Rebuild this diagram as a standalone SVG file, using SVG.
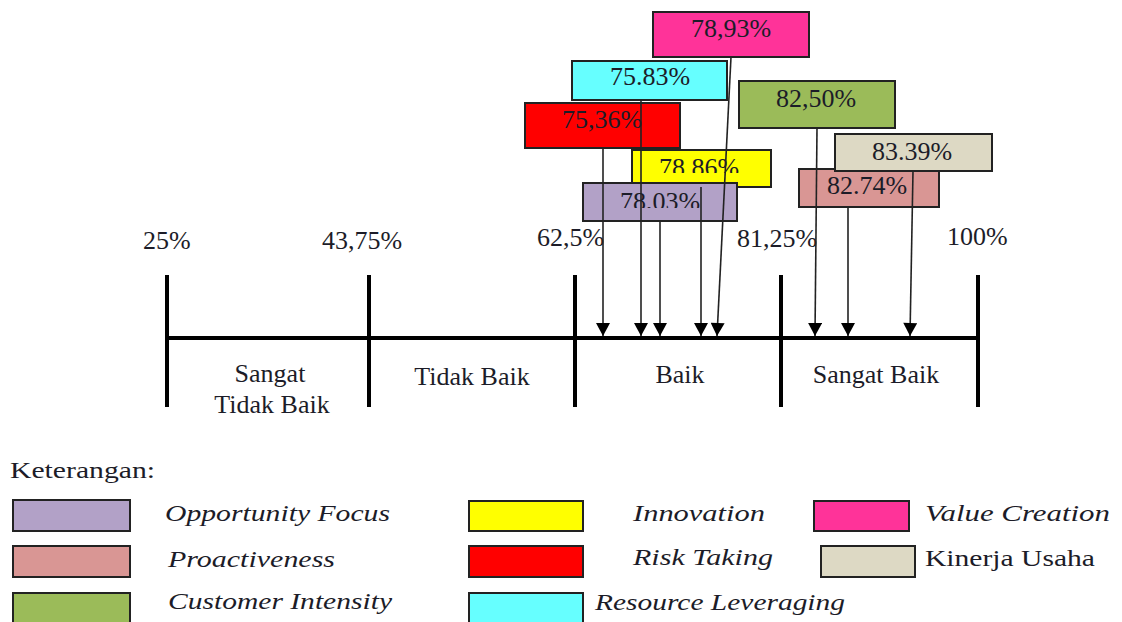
<svg xmlns="http://www.w3.org/2000/svg" width="1122" height="622" viewBox="0 0 1122 622" font-family="'Liberation Serif', 'DejaVu Serif', serif">
<style>
text{font-family:'Liberation Serif','DejaVu Serif',serif;fill:#1c1c28}
.v{font-size:26px;text-anchor:middle}
.ax{font-size:26px}
.cat{font-size:26px;text-anchor:middle}
.lg{font-size:23px;font-style:italic}
.lu{font-size:23px}
.box{stroke:#222;stroke-width:2}
.tick{stroke:#000;stroke-width:4;fill:none}
.conn line{stroke:#222;stroke-width:1.6}
</style>
<defs>
<marker id="ah" markerUnits="userSpaceOnUse" markerWidth="14" markerHeight="14" viewBox="0 -7 13 14" refX="13" refY="0" orient="auto">
<path d="M0,-7 L13,0 L0,7 z" fill="#000"/>
</marker>
<clipPath id="clipY"><rect x="630" y="148" width="145" height="25"/></clipPath>
<clipPath id="clipP"><rect x="580" y="183" width="160" height="25"/></clipPath>
</defs>
<rect width="1122" height="622" fill="#fff"/>

<g id="scale">
<line class="tick" x1="165" y1="338" x2="980" y2="338"/>
<line class="tick" x1="167" y1="275" x2="167" y2="407"/>
<line class="tick" x1="369" y1="275" x2="369" y2="407"/>
<line class="tick" x1="575" y1="275" x2="575" y2="407"/>
<line class="tick" x1="781" y1="275" x2="781" y2="407"/>
<line class="tick" x1="978" y1="275" x2="978" y2="407"/>
<text class="ax" x="143" y="249">25%</text>
<text class="ax" x="322" y="249">43,75%</text>
<text class="ax" x="537" y="246">62,5%</text>
<text class="ax" x="737" y="247">81,25%</text>
<text class="ax" x="947" y="245">100%</text>
<text class="cat" x="270" y="382">Sangat</text>
<text class="cat" x="272" y="413">Tidak Baik</text>
<text class="cat" x="472" y="385">Tidak Baik</text>
<text class="cat" x="680" y="383">Baik</text>
<text class="cat" x="876" y="383">Sangat Baik</text>
</g>

<g id="n-value-creation"><rect class="box" x="653" y="12" width="156" height="45" fill="#FF3399"/><text class="v" x="731" y="37">78,93%</text></g>
<g id="n-resource-leveraging"><rect class="box" x="572" y="61" width="155" height="39" fill="#66FFFF"/><text class="v" x="650" y="85">75.83%</text></g>
<g id="n-risk-taking"><rect class="box" x="525" y="103" width="155" height="45" fill="#FF0000"/><text class="v" x="602" y="128">75,36%</text></g>
<g id="n-innovation"><rect class="box" x="632" y="150" width="139" height="37" fill="#FFFF00"/><text class="v" x="699" y="176" clip-path="url(#clipY)">78,86%</text></g>
<g id="n-opportunity-focus"><rect class="box" x="583" y="183" width="154" height="38" fill="#B2A1C7"/><text class="v" x="660" y="210" clip-path="url(#clipP)">78,03%</text></g>
<g id="n-customer-intensity"><rect class="box" x="739" y="81" width="156" height="47" fill="#9BBB59"/><text class="v" x="816" y="107">82,50%</text></g>
<g id="n-proactiveness"><rect class="box" x="799" y="169" width="140" height="38" fill="#D99694"/><text class="v" x="867" y="194">82.74%</text></g>
<g id="n-kinerja-usaha"><rect class="box" x="835" y="134" width="157" height="37" fill="#DDD9C4"/><text class="v" x="912" y="160">83.39%</text></g>

<g id="connectors" class="conn">
<line x1="603" y1="148" x2="603" y2="336" marker-end="url(#ah)"/>
<line x1="641" y1="100" x2="641" y2="336" marker-end="url(#ah)"/>
<line x1="660" y1="221" x2="660" y2="336" marker-end="url(#ah)"/>
<line x1="701" y1="187" x2="701" y2="336" marker-end="url(#ah)"/>
<line x1="731" y1="57" x2="717" y2="336" marker-end="url(#ah)"/>
<line x1="817" y1="128" x2="815" y2="336" marker-end="url(#ah)"/>
<line x1="848" y1="207" x2="848" y2="336" marker-end="url(#ah)"/>
<line x1="913" y1="171" x2="910" y2="336" marker-end="url(#ah)"/>
</g>

<g id="legend">
<text class="lu" x="10" y="478" textLength="145" lengthAdjust="spacingAndGlyphs">Keterangan:</text>
<rect class="box" x="13" y="500" width="117" height="31" fill="#B2A1C7"/>
<rect class="box" x="13" y="546" width="117" height="31" fill="#D99694"/>
<rect class="box" x="13" y="593" width="117" height="34" fill="#9BBB59"/>
<text class="lg" x="165" y="521" textLength="225" lengthAdjust="spacingAndGlyphs">Opportunity Focus</text>
<text class="lg" x="168" y="567" textLength="167" lengthAdjust="spacingAndGlyphs">Proactiveness</text>
<text class="lg" x="168" y="609" textLength="224" lengthAdjust="spacingAndGlyphs">Customer Intensity</text>
<rect class="box" x="469" y="501" width="114" height="30" fill="#FFFF00"/>
<rect class="box" x="469" y="546" width="114" height="31" fill="#FF0000"/>
<rect class="box" x="469" y="593" width="114" height="34" fill="#66FFFF"/>
<text class="lg" x="633" y="521" textLength="132" lengthAdjust="spacingAndGlyphs">Innovation</text>
<text class="lg" x="633" y="565" textLength="140" lengthAdjust="spacingAndGlyphs">Risk Taking</text>
<text class="lg" x="595" y="610" textLength="250" lengthAdjust="spacingAndGlyphs">Resource Leveraging</text>
<rect class="box" x="814" y="501" width="95" height="30" fill="#FF3399"/>
<rect class="box" x="821" y="546" width="94" height="31" fill="#DDD9C4"/>
<text class="lg" x="925" y="521" textLength="185" lengthAdjust="spacingAndGlyphs">Value Creation</text>
<text class="lu" x="925" y="566" textLength="170" lengthAdjust="spacingAndGlyphs">Kinerja Usaha</text>
</g>
</svg>
